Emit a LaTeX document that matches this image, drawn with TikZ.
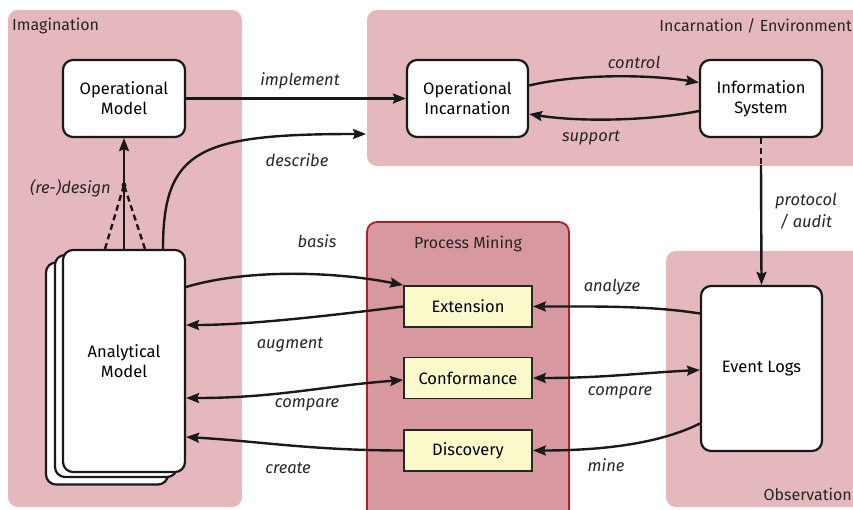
\documentclass[tikz,border=0pt]{standalone}
\usepackage{fontspec}
\setmainfont{Fira Sans}
\usetikzlibrary{arrows.meta,calc}
\definecolor{zonepink}{RGB}{229,184,190}
\definecolor{minepink}{RGB}{216,152,160}
\definecolor{mineborder}{RGB}{176,32,44}
\definecolor{stepyellow}{RGB}{250,249,202}
\tikzset{
  zone/.style={fill=zonepink,draw=none,rounded corners=10pt},
  zonetitle/.style={font=\fontsize{16}{18}\selectfont,text=black!85,inner sep=0pt},
  modelbox/.style={draw=black!90,fill=white,line width=2.2pt,rounded corners=10pt,
    align=center,font=\fontsize{16.5}{20}\selectfont,inner sep=0pt},
  minebox/.style={draw=black!85,fill=stepyellow,line width=1.8pt,
    minimum width=128pt,minimum height=41pt,font=\fontsize{16.5}{18}\selectfont,inner sep=0pt},
  conn/.style={line width=2.4pt,draw=black!90},
  arr/.style={conn,-{Stealth[length=13pt,width=10pt,inset=2pt]}},
  biarr/.style={conn,{Stealth[length=13pt,width=10pt,inset=2pt]}-{Stealth[length=13pt,width=10pt,inset=2pt]}},
  lbl/.style={font=\fontsize{16.5}{22}\selectfont\itshape,text=black!85,inner sep=0pt,align=center}
}
\begin{document}
\begin{tikzpicture}[x=1pt,y=-1pt]
\useasboundingbox (0,0) rectangle (853,509);

% background zones
\begin{scope}
\clip (0,0) rectangle (853,509);
\path[zone] (8,10) rectangle (242,507);
\path[zone] (367,10) rectangle (880,166);
\path[zone] (666,251) rectangle (880,507);
\path[fill=minepink,draw=mineborder,line width=1.8pt,rounded corners=10pt] (367,222) rectangle (569,530);
\end{scope}

\node[zonetitle,anchor=west] (tImag) at (12,26) {Imagination};
\node[zonetitle,anchor=east] (tInc) at (852,26) {Incarnation / Environment};
\node[zonetitle] (tPM) at (468,244) {Process Mining};
\node[zonetitle,anchor=east] (tObs) at (852,494) {Observation};

% model boxes
\node[modelbox,minimum width=122pt,minimum height=77pt] (opm) at (124,98.5) {Operational\\Model};
\node[modelbox,minimum width=121pt,minimum height=77pt] (opi) at (467.5,98.5) {Operational\\Incarnation};
\node[modelbox,minimum width=122pt,minimum height=77pt] (infs) at (761,98.5) {Information\\System};

% stacked analytical models
\node[modelbox,minimum width=122pt,minimum height=222pt] (amb) at (107,373.5) {};
\node[modelbox,minimum width=122pt,minimum height=222pt] (amm) at (116,366) {};
\node[modelbox,minimum width=122pt,minimum height=222pt] (am) at (124,361) {Analytical\\Model};

\node[modelbox,minimum width=121pt,minimum height=165pt] (elog) at (761.5,368.5) {Event Logs};

% process mining steps
\node[minebox] (ext) at (468,306.5) {Extension};
\node[minebox] (conf) at (468,378) {Conformance};
\node[minebox] (disc) at (468,450.5) {Discovery};

% implement
\draw[arr] (opm.east) -- (opi.west);
\node[lbl] (limpl) at (300,81) {implement};

% control / support
\draw[arr] ($(opi.east)+(0,-13)$) .. controls +(50,-12) and +(-50,-8) .. ($(infs.west)+(0,-16)$);
\node[lbl] (lctrl) at (634,62) {control};
\draw[arr] ($(infs.west)+(0,12.5)$) .. controls +(-50,10) and +(50,8) .. ($(opi.east)+(0,15.5)$);
\node[lbl] (lsupp) at (591,138) {support};

% describe
\coordinate (descEnd) at (366,134);
\draw[arr] ($(am.north)+(39,0)$) .. controls +(0,-100) and +(-166,0) .. (descEnd);
\node[lbl] (ldesc) at (297,160) {describe};

% (re-)design
\coordinate (redes) at (124,185);
\draw[conn,dash pattern=on 6pt off 4pt] ($(am.north)+(-19,0)$) -- (redes);
\draw[conn,dash pattern=on 6pt off 4pt] ($(am.north)+(21,0)$) -- (redes);
\fill[black!90] (redes) circle (2.5pt);
\draw[arr] (am.north) -- (opm.south);
\node[lbl,anchor=east] (lredes) at (111,188) {(re-)design};

% protocol / audit
\coordinate (protoMid) at (761,165);
\draw[conn,dash pattern=on 6pt off 4pt] (infs.south) -- (protoMid);
\draw[arr] (protoMid) -- (elog.north);
\node[lbl] (lproto) at (806,211) {protocol\\/ audit};

% analytical model <-> process mining
\draw[arr] ($(am.east)+(0,-74)$) .. controls +(60,-18) and +(-70,-14) .. (ext.north west);
\node[lbl] (lbasis) at (317,241) {basis};
\draw[arr] (ext.west) .. controls +(-80,10) and +(60,0) .. ($(am.east)+(0,-36)$);
\node[lbl] (laug) at (290,345) {augment};
\draw[biarr] ($(am.east)+(0,37)$) .. controls +(90,0) and +(-80,6) .. ($(conf.west)+(0,2)$);
\node[lbl] (lcmp1) at (307,405) {compare};
\draw[arr] (disc.west) .. controls +(-90,0) and +(70,4) .. ($(am.east)+(0,76)$);
\node[lbl] (lcreate) at (288,468) {create};

% event logs <-> process mining
\draw[arr] ($(elog.west)+(0,-55)$) .. controls +(-50,-8) and +(60,0) .. (ext.east);
\node[lbl] (lanal) at (612,287) {analyze};
\draw[biarr] (conf.east) .. controls +(70,0) and +(-60,3) .. ($(elog.west)+(0,1.5)$);
\node[lbl] (lcmp2) at (620,393) {compare};
\draw[arr] ($(elog.west)+(0,55)$) .. controls +(-40,20) and +(70,0) .. (disc.east);
\node[lbl] (lmine) at (606,465) {mine};
\end{tikzpicture}
\end{document}
